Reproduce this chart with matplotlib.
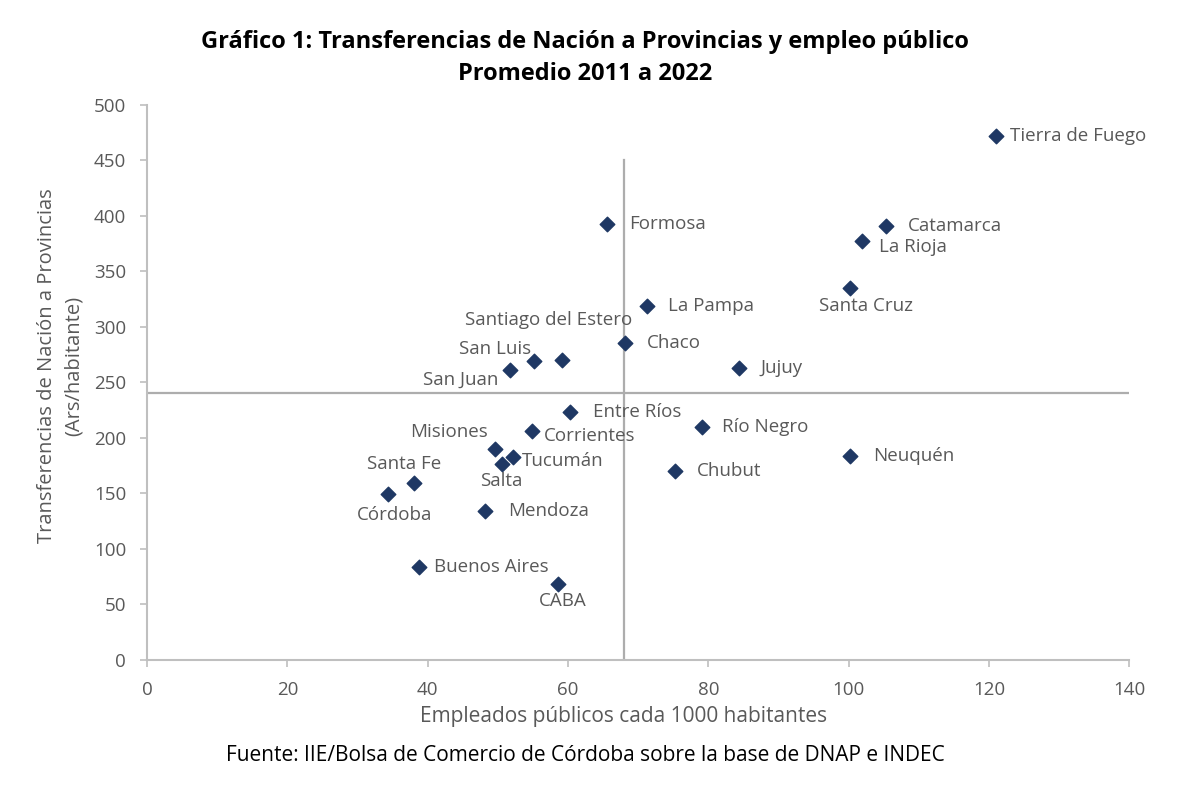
import matplotlib.pyplot as plt

provincias = [
    "Tierra de Fuego", "Catamarca", "La Rioja", "Santa Cruz", "Formosa",
    "La Pampa", "Chaco", "Jujuy", "Santiago del Estero", "San Luis",
    "San Juan", "Entre Ríos", "Corrientes", "Río Negro", "Misiones",
    "Tucumán", "Salta", "Neuquén", "Chubut", "Santa Fe", "Córdoba",
    "Mendoza", "Buenos Aires", "CABA",
]
empleados = [
    121.0, 105.3, 101.9, 100.2, 65.6,
    71.3, 68.1, 84.4, 59.2, 55.1,
    51.8, 60.3, 54.9, 79.1, 49.6,
    52.2, 50.6, 100.2, 75.3, 38.1, 34.4,
    48.2, 38.8, 58.6,
]
transferencias = [
    472, 391, 377.5, 335, 393,
    319, 285.3, 263, 270, 269.2,
    261.3, 223.7, 206.6, 210, 189.8,
    183.2, 176.6, 184, 170, 159.7, 149.5,
    134.2, 84.1, 68.5,
]
promedio_empleados = 68.0
promedio_transferencias = 240.8

# label offsets in pixels: (dx, dy, ha)
offsets = {
    "Tierra de Fuego": (14, 0, "left"),
    "Catamarca": (22, 0, "left"),
    "La Rioja": (17, -6, "left"),
    "Santa Cruz": (16, -18, "center"),
    "Formosa": (22, 0, "left"),
    "La Pampa": (21, 0, "left"),
    "Chaco": (22, 0, "left"),
    "Jujuy": (21, 0, "left"),
    "Santiago del Estero": (-14, 40, "center"),
    "San Luis": (-2, 12, "right"),
    "San Juan": (-12, -10, "right"),
    "Entre Ríos": (23, 0, "left"),
    "Corrientes": (12, -5, "left"),
    "Río Negro": (20, 0, "left"),
    "Misiones": (-7, 17, "right"),
    "Tucumán": (9, -4, "left"),
    "Salta": (-1, -17, "center"),
    "Neuquén": (23, 0, "left"),
    "Chubut": (22, 0, "left"),
    "Santa Fe": (-10, 19, "center"),
    "Córdoba": (6, -21, "center"),
    "Mendoza": (23, 0, "left"),
    "Buenos Aires": (15, 0, "left"),
    "CABA": (5, -17, "center"),
}

plt.rcParams["font.family"] = ["Open Sans", "DejaVu Sans"]
gris = "#595959"
linea = "#BFBFBF"

fig = plt.figure(figsize=(12, 8), dpi=100)
ax = fig.add_axes([0.1225, 0.175, 0.8185, 0.694])

ax.plot([promedio_empleados, promedio_empleados], [0, 450], color="#ADADAD", lw=1.6, zorder=1)
ax.plot([0, 140], [promedio_transferencias, promedio_transferencias], color="#ADADAD", lw=1.6, zorder=1)

ax.scatter(empleados, transferencias, marker="D", s=55, color="#1F3864", zorder=3)

for nombre, x, y in zip(provincias, empleados, transferencias):
    dx, dy, ha = offsets[nombre]
    ax.annotate(nombre, (x, y), xytext=(dx, dy), textcoords="offset pixels",
                ha=ha, va="center", fontsize=13.5, color=gris)

ax.set_xlim(0, 140)
ax.set_ylim(0, 500)
ax.set_xticks(range(0, 141, 20))
ax.set_yticks(range(0, 501, 50))
for s in ["top", "right"]:
    ax.spines[s].set_visible(False)
for s in ["left", "bottom"]:
    ax.spines[s].set_color(linea)
    ax.spines[s].set_linewidth(1.5)
ax.tick_params(colors=linea, labelcolor=gris, labelsize=13.5, length=5, width=1.2)
ax.tick_params(axis="x", pad=10)
ax.tick_params(axis="y", pad=10)

fig.text(0.52, 0.104, "Empleados públicos cada 1000 habitantes", ha="center", va="center",
         fontsize=15, color=gris)
fig.text(0.05, 0.543, "Transferencias de Nación a Provincias\n(Ars/habitante)", ha="center",
         va="center", rotation=90, fontsize=14.5, color=gris, linespacing=1.45)

fig.text(0.4875, 0.947, "Gráfico 1: Transferencias de Nación a Provincias y empleo público",
         ha="center", va="center", fontsize=17, fontweight="bold")
fig.text(0.4875, 0.908, "Promedio 2011 a 2022", ha="center", va="center",
         fontsize=17, fontweight="bold")
fig.text(0.4875, 0.056, "Fuente: IIE/Bolsa de Comercio de Córdoba sobre la base de DNAP e INDEC",
         ha="center", va="center", fontsize=15, color="black")

fig.savefig("out.png", dpi=100)
